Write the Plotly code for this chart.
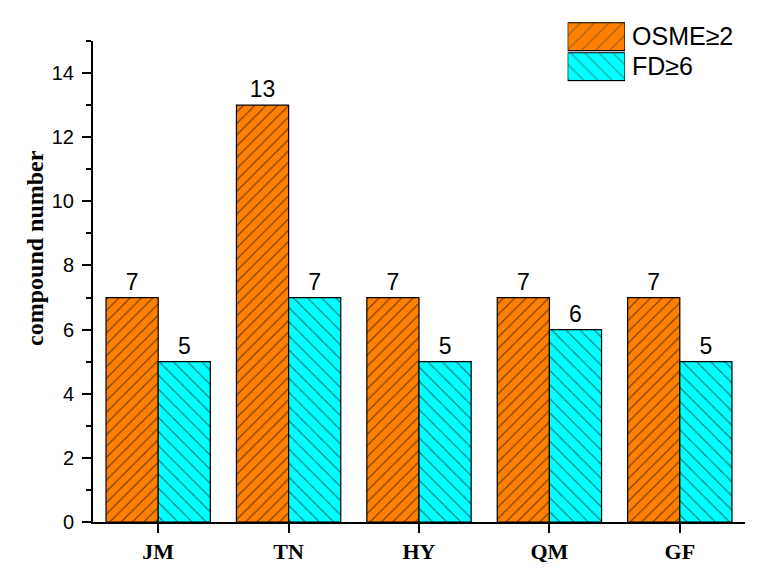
import plotly.graph_objects as go

sites = ["JM", "TN", "HY", "QM", "GF"]
osme = [7, 13, 7, 7, 7]
fd = [5, 7, 5, 6, 5]
series_names = ["OSME≥2", "FD≥6"]
series_colors = ["#FF8000", "#00FFFF"]
series_hatch = ["/", "\\"]

# the page has an 8px body margin, so figure coords = page coords - 8
fig = go.Figure()
fig.add_trace(go.Bar(
    x=sites, y=osme, name=series_names[0],
    text=osme, textposition="outside",
    textfont=dict(family="Liberation Sans, Arial", size=23, color="black"),
    marker=dict(color=series_colors[0], line=dict(color="black", width=1.2),
                pattern=dict(shape=series_hatch[0], fgcolor="black", bgcolor=series_colors[0],
                             fillmode="overlay", size=8, solidity=0.15)),
    cliponaxis=False, showlegend=False,
))
fig.add_trace(go.Bar(
    x=sites, y=fd, name=series_names[1],
    text=fd, textposition="outside",
    textfont=dict(family="Liberation Sans, Arial", size=23, color="black"),
    marker=dict(color=series_colors[1], line=dict(color="black", width=1.2),
                pattern=dict(shape=series_hatch[1], fgcolor="black", bgcolor=series_colors[1],
                             fillmode="overlay", size=10, solidity=0.12)),
    cliponaxis=False, showlegend=False,
))

# legend drawn as a small inset so the swatches are large and hatched like the original
fig.add_trace(go.Bar(
    x=[1, 1], y=series_names, orientation="h", width=0.93,
    xaxis="x2", yaxis="y2", showlegend=False, hoverinfo="skip",
    marker=dict(color=series_colors, line=dict(color="black", width=1.2),
                pattern=dict(shape=series_hatch, fgcolor="black", bgcolor=series_colors,
                             fillmode="overlay", size=10, solidity=0.12)),
))

fig.update_layout(
    width=771, height=583,
    margin=dict(l=85, r=34, t=10, b=69, autoexpand=False),
    plot_bgcolor="white", paper_bgcolor="white",
    barmode="group", bargap=0.2, bargroupgap=0,
    xaxis=dict(
        domain=[0, 1], anchor="y",
        showline=True, linecolor="black", linewidth=2,
        ticks="outside", ticklen=9, tickwidth=2, tickcolor="black",
        tickfont=dict(family="Liberation Serif, Times New Roman", size=22, color="black"),
        range=[-0.5, 4.5], showgrid=False, automargin=False,
        tickprefix="<b>", ticksuffix="</b>",
        minor=dict(ticks="outside", ticklen=5, tickwidth=1.5, tickcolor="black", dtick=1, tick0=-0.5),
    ),
    yaxis=dict(
        domain=[0, 0.95437], anchor="x",
        showline=True, linecolor="black", linewidth=2,
        ticks="outside", ticklen=9, tickwidth=1.5, tickcolor="black",
        tickfont=dict(family="Liberation Sans, Arial", size=20, color="black"),
        ticklabelstandoff=4,
        range=[0, 15], dtick=2, showgrid=False, zeroline=False, automargin=False,
        minor=dict(ticks="outside", ticklen=5, tickwidth=1.5, tickcolor="black", dtick=1),
    ),
    xaxis2=dict(domain=[0.728, 0.816], range=[0, 1], visible=False, anchor="y2"),
    yaxis2=dict(domain=[0.8736, 0.9927], anchor="x2", side="right", autorange="reversed",
                showgrid=False, showline=False, ticks="", zeroline=False,
                tickfont=dict(family="Liberation Sans, Arial", size=25, color="black"),
                ticklabelstandoff=6),
    annotations=[dict(
        text="<b>compound number</b>", textangle=-90,
        xref="paper", yref="paper", x=-0.089, y=0.5437,
        xanchor="center", yanchor="middle", showarrow=False,
        font=dict(family="Liberation Serif, Times New Roman", size=24, color="black"),
    )],
)

fig.write_html("out.html")
